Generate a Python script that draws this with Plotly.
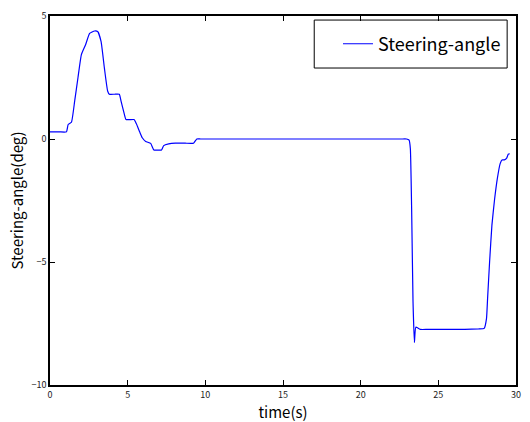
import plotly.graph_objects as go

# Steering angle trace over the run
time_s = [0, 0.6, 1.06, 1.17, 1.38, 1.59, 1.8, 2.02, 2.29, 2.55, 2.87, 3.08, 3.29, 3.5, 3.71,
          3.82, 4.15, 4.46, 4.57, 4.78, 4.89, 5.15, 5.41, 5.56, 5.78, 5.94, 6.16, 6.48, 6.69,
          6.95, 7.18, 7.32, 7.64, 8.07, 8.7, 9.24, 9.45, 9.7, 12.0, 16.0, 20.0, 22.6,
          22.95, 23.12, 23.2, 23.28, 23.37, 23.46, 23.55, 23.85, 24.3, 25.5, 26.7, 27.6,
          27.95, 28.1, 28.17, 28.3, 28.45, 28.62, 28.8, 28.98, 29.1, 29.25, 29.4, 29.5,
          29.6]
angle_deg = [0.29, 0.29, 0.29, 0.59, 0.68, 1.55, 2.49, 3.43, 3.83, 4.29, 4.39, 4.36, 3.96,
             2.89, 1.95, 1.82, 1.82, 1.82, 1.55, 1.02, 0.79, 0.79, 0.79, 0.62, 0.28, 0.05,
             -0.1, -0.18, -0.45, -0.45, -0.45, -0.27, -0.2, -0.17, -0.17, -0.17, 0.0, 0.0,
             0.0, 0.0, 0.0, 0.0, 0.0, -0.05, -0.4, -2.8, -6.6, -8.27, -7.65, -7.74, -7.74,
             -7.74, -7.74, -7.72, -7.7, -7.3, -6.5, -5.0, -3.5, -2.46, -1.6, -1.0, -0.85,
             -0.85, -0.78, -0.62, -0.6]

x_ticks = [0, 5, 10, 15, 20, 25, 30]
y_ticks = [-10, -5, 0, 5]

FONT = "Noto Sans CJK JP, sans-serif"

fig = go.Figure()
fig.add_trace(go.Scatter(
    x=time_s, y=angle_deg, mode="lines", name="Steering-angle",
    line=dict(color="#0000ff", width=1.2, shape="spline", smoothing=0.4),
))

axis_common = dict(
    showgrid=False, zeroline=False, showline=True, linecolor="black", linewidth=1.5,
    mirror="ticks", ticks="inside", ticklen=5, tickcolor="black", tickwidth=1,
    tickfont=dict(family=FONT, size=9, color="#222"),
)

fig.update_xaxes(range=[0, 30], tickvals=x_ticks, ticktext=[str(v) for v in x_ticks],
                 title=dict(text="time(s)", font=dict(family=FONT, size=15, color="black"),
                            standoff=2),
                 **axis_common)
fig.update_yaxes(range=[-10, 5], tickvals=y_ticks,
                 ticktext=["\u221210", "\u22125", "0", "5"],
                 title=dict(text="Steering-angle(deg)",
                            font=dict(family=FONT, size=15, color="black"), standoff=4),
                 **axis_common)

# Legend frame drawn as a rectangle so the entry can sit inset from its border
fig.add_shape(type="rect", xref="paper", yref="paper",
              x0=0.567, x1=0.981, y0=0.859, y1=0.989,
              line=dict(color="black", width=1), fillcolor="white", layer="below")

fig.update_layout(
    width=530, height=422,
    margin=dict(l=50, r=9, t=13, b=34),
    paper_bgcolor="white", plot_bgcolor="white",
    showlegend=True,
    legend=dict(
        x=0.618, y=0.924, xanchor="left", yanchor="middle",
        bgcolor="rgba(0,0,0,0)", borderwidth=0,
        font=dict(family=FONT, size=18, color="black"),
        itemwidth=30,
    ),
)

fig.write_html("out.html")
